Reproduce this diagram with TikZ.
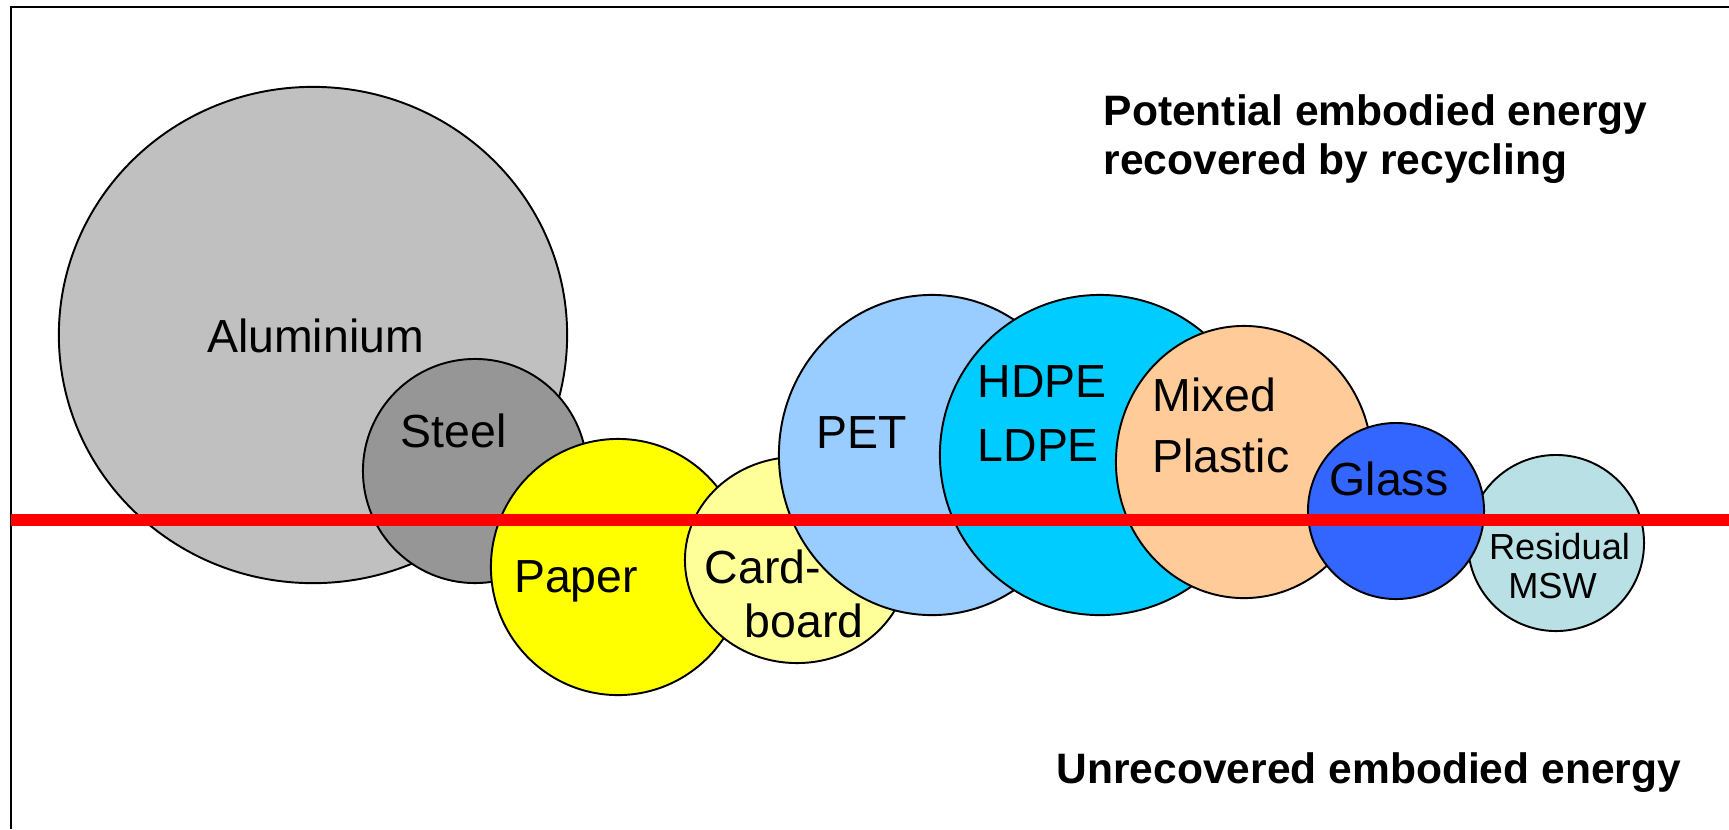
\documentclass[tikz,border=0pt]{standalone}
\usepackage{fontspec}
\setmainfont{Liberation Sans}
\definecolor{alu}{HTML}{C0C0C0}
\definecolor{steel}{HTML}{969696}
\definecolor{paper}{HTML}{FFFF00}
\definecolor{card}{HTML}{FFFF99}
\definecolor{pet}{HTML}{99CCFF}
\definecolor{hdpe}{HTML}{00CCFF}
\definecolor{mixed}{HTML}{FFCC99}
\definecolor{glass}{HTML}{3366FF}
\definecolor{resid}{HTML}{B9E0E4}
\begin{document}
\begin{tikzpicture}[x=0.01cm,y=-0.01cm,
  disc/.style={draw=black, line width=0.55pt},
  lbl/.style={inner sep=0pt, font=\fontsize{13.2}{15}\selectfont},
  small/.style={inner sep=0pt, font=\fontsize{10.3}{12}\selectfont},
  title/.style={inner sep=0pt, font=\fontsize{12.1}{14}\selectfont\bfseries}]
\useasboundingbox (0,0) rectangle (1729,829);

% outer frame (left and top edges)
\draw[line width=0.6pt] (11,829) -- (11,7) -- (1729,7);

% material discs, back to front
\path[disc, fill=alu]   (313,335)  ellipse [x radius=2.54cm, y radius=2.48cm];
\path[disc, fill=steel] (475,471)  ellipse [x radius=1.12cm, y radius=1.12cm];
\path[disc, fill=paper] (618,567)  ellipse [x radius=1.27cm, y radius=1.28cm];
\path[disc, fill=card]  (797,560)  ellipse [x radius=1.12cm, y radius=1.03cm];
\path[disc, fill=pet]   (932,455)  ellipse [x radius=1.53cm, y radius=1.60cm];
\path[disc, fill=hdpe]  (1100,455) ellipse [x radius=1.60cm, y radius=1.60cm];
\path[disc, fill=mixed] (1244,462) ellipse [x radius=1.28cm, y radius=1.36cm];
\path[disc, fill=resid] (1556,543) ellipse [x radius=0.88cm, y radius=0.88cm];
\path[disc, fill=glass] (1396,511) ellipse [x radius=0.88cm, y radius=0.88cm];

% dividing line
\coordinate (lineL) at (11,519.7);
\coordinate (lineR) at (1729,519.7);
\draw[red, line width=3.3pt] (lineL) -- (lineR);

% labels
\node[lbl, anchor=base] (alutxt) at (315.5,352) {Aluminium};
\node[lbl, anchor=base] (steeltxt) at (453.5,447) {Steel};
\node[lbl, anchor=base] (papertxt) at (576,592) {Paper};
\node[lbl, anchor=base west] (card1) at (704,583) {Card-};
\node[lbl, anchor=base west] (card2) at (744,637) {board};
\node[lbl, anchor=base] (pettxt) at (861.5,448) {PET};
\node[lbl, anchor=base west] (hdpetxt) at (977,397) {HDPE};
\node[lbl, anchor=base west] (ldpetxt) at (977,461) {LDPE};
\node[lbl, anchor=base west] (mix1) at (1152,411) {Mixed};
\node[lbl, anchor=base west] (mix2) at (1152,472) {Plastic};
\node[lbl, anchor=base] (glasstxt) at (1389,495) {Glass};
\node[small, anchor=base] (res1) at (1559.5,559) {Residual};
\node[small, anchor=base] (res2) at (1552.5,598) {MSW};

% region titles
\node[title, anchor=base west] (upper1) at (1103,125) {Potential embodied energy};
\node[title, anchor=base west] (upper2) at (1103,174) {recovered by recycling};
\node[title, anchor=base west] (lower) at (1056,783) {Unrecovered embodied energy};
\end{tikzpicture}
\end{document}
